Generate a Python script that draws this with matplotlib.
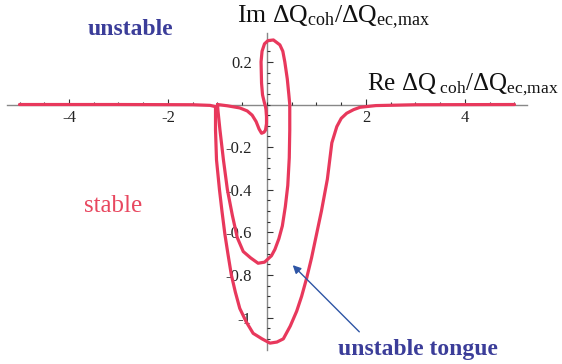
import matplotlib
matplotlib.use("Agg")
import matplotlib.pyplot as plt
import numpy as np

# outer branch (tail -> big tongue -> tail)
outer_re = [-5.0, -3.0, -1.5, -1.15, -1.04, -1.04, -1.02, -0.96, -0.91, -0.85, -0.79, -0.72,
            -0.64, -0.55, -0.42, -0.28, -0.10, 0.06, 0.20, 0.33, 0.47, 0.60, 0.70, 0.80,
            0.90, 1.00, 1.10, 1.18, 1.22, 1.31, 1.41, 1.50, 1.61, 1.75, 1.88, 2.2, 3.0, 5.0]
outer_im = [0.0, 0.0, -0.001, -0.004, -0.01, -0.12, -0.26, -0.40, -0.50, -0.61, -0.70, -0.80,
            -0.88, -0.957, -1.02, -1.074, -1.10, -1.12, -1.115, -1.10, -1.04, -0.97, -0.90, -0.816,
            -0.72, -0.61, -0.50, -0.40, -0.35, -0.18, -0.104, -0.065, -0.041, -0.024, -0.013, -0.005, -0.001, 0.0]

# inner loop starting and ending at the cusp near Re = -1
inner_re = [-1.0, -0.8, -0.55, -0.40, -0.30, -0.22, -0.16, -0.11, -0.06, -0.03, -0.01, -0.01,
            -0.02, -0.03, -0.05, -0.09, -0.11, -0.12, -0.10, -0.05, 0.02, 0.13, 0.26, 0.32,
            0.36, 0.41, 0.44, 0.46, 0.46, 0.45, 0.42, 0.37, 0.31, 0.24, 0.16, 0.09, -0.05,
            -0.18, -0.33, -0.48, -0.60, -0.70, -0.80, -0.88, -0.95, -0.99, -1.0]
inner_im = [0.0, -0.006, -0.016, -0.03, -0.05, -0.08, -0.115, -0.135, -0.13, -0.12, -0.09, -0.057,
            -0.025, -0.01, 0.006, 0.045, 0.10, 0.20, 0.25, 0.285, 0.30, 0.303, 0.28, 0.25,
            0.20, 0.12, 0.05, 0.0, -0.12, -0.25, -0.38, -0.48, -0.57, -0.63, -0.68, -0.71, -0.74,
            -0.745, -0.72, -0.69, -0.625, -0.52, -0.40, -0.26, -0.12, -0.03, 0.0]

x_major = [-4, -2, 2, 4]
x_labels = ["-4", "-2", "2", "4"]
y_major = [0.2, -0.2, -0.4, -0.6, -0.8, -1.0]
y_labels = ["0.2", "-0.2", "-0.4", "-0.6", "-0.8", "-1"]

CURVE = "#e8385c"
BLUE = "#3b3d99"

plt.rcParams.update({
    "font.family": "serif",
    "font.serif": ["Liberation Serif", "DejaVu Serif"],
    "mathtext.fontset": "custom",
    "mathtext.rm": "Liberation Serif",
    "mathtext.it": "Liberation Serif:italic",
    "mathtext.bf": "Liberation Serif:bold",
})

fig = plt.figure(figsize=(5.62, 3.64), dpi=100)
ax = fig.add_axes([0, 0, 1, 1])
ax.set_xlim(-5.394, 5.96)
ax.set_ylim(-1.218, 0.4906)

ax.plot(outer_re, outer_im, color=CURVE, lw=2.3, solid_joinstyle="round", solid_capstyle="round")
ax.plot(inner_re, inner_im, color=CURVE, lw=2.3, solid_joinstyle="round", solid_capstyle="round")

# axes through the origin, Mathematica style
for s in ["top", "right"]:
    ax.spines[s].set_visible(False)
ax.spines["left"].set_position(("data", 0))
ax.spines["bottom"].set_position(("data", 0))
ax.spines["left"].set_bounds(-1.15, 0.336)
ax.spines["bottom"].set_bounds(-5.25, 5.25)
for s in ["left", "bottom"]:
    ax.spines[s].set_color("#888888")
    ax.spines[s].set_linewidth(1.0)
    ax.spines[s].set_zorder(1)

ax.set_xticks(x_major)
ax.set_xticklabels(x_labels)
ax.set_xticks(np.arange(-5, 5.01, 0.5), minor=True)
ax.set_yticks(y_major)
ax.set_yticklabels(y_labels)
ax.set_yticks(np.arange(-1.1, 0.31, 0.05), minor=True)
ax.tick_params(which="both", direction="in", color="#333333", width=0.8)
ax.tick_params(which="major", length=4.5)
ax.tick_params(which="minor", length=2.5)
ax.tick_params(axis="x", which="major", pad=4, labelsize=12, labelcolor="#222222")
ax.tick_params(axis="y", which="major", pad=11, labelsize=12, labelcolor="#222222")

W, H = 562.0, 364.0
fig.text(237 / W, 1 - 22 / H, r"Im $\Delta$Q$_{\mathrm{coh}}$/$\Delta$Q$_{\mathrm{ec{,}max}}$",
         fontsize=18.5, va="baseline", ha="left", color="#111111")
fig.text(367 / W, 1 - 90 / H, r"Re $\Delta$Q$_{\mathrm{\ coh}}$/$\Delta$Q$_{\mathrm{ec{,}max}}$",
         fontsize=18, va="baseline", ha="left", color="#111111")
fig.text(88 / W, 1 - 35 / H, "unstable", fontsize=17, fontweight="bold", color=BLUE,
         va="baseline", ha="left")
fig.text(84 / W, 1 - 212 / H, "stable", fontsize=18, color="#e8475f", va="baseline", ha="left")
fig.text(338 / W, 1 - 355 / H, "unstable tongue", fontsize=17, fontweight="bold", color=BLUE,
         va="baseline", ha="left")

ax.annotate("", xy=(0.52, -0.754), xytext=(1.865, -1.067),
            arrowprops=dict(arrowstyle="-|>", color="#2e55a5", lw=1.0,
                            mutation_scale=12, shrinkA=0, shrinkB=0))

fig.savefig("out.png", dpi=100)
